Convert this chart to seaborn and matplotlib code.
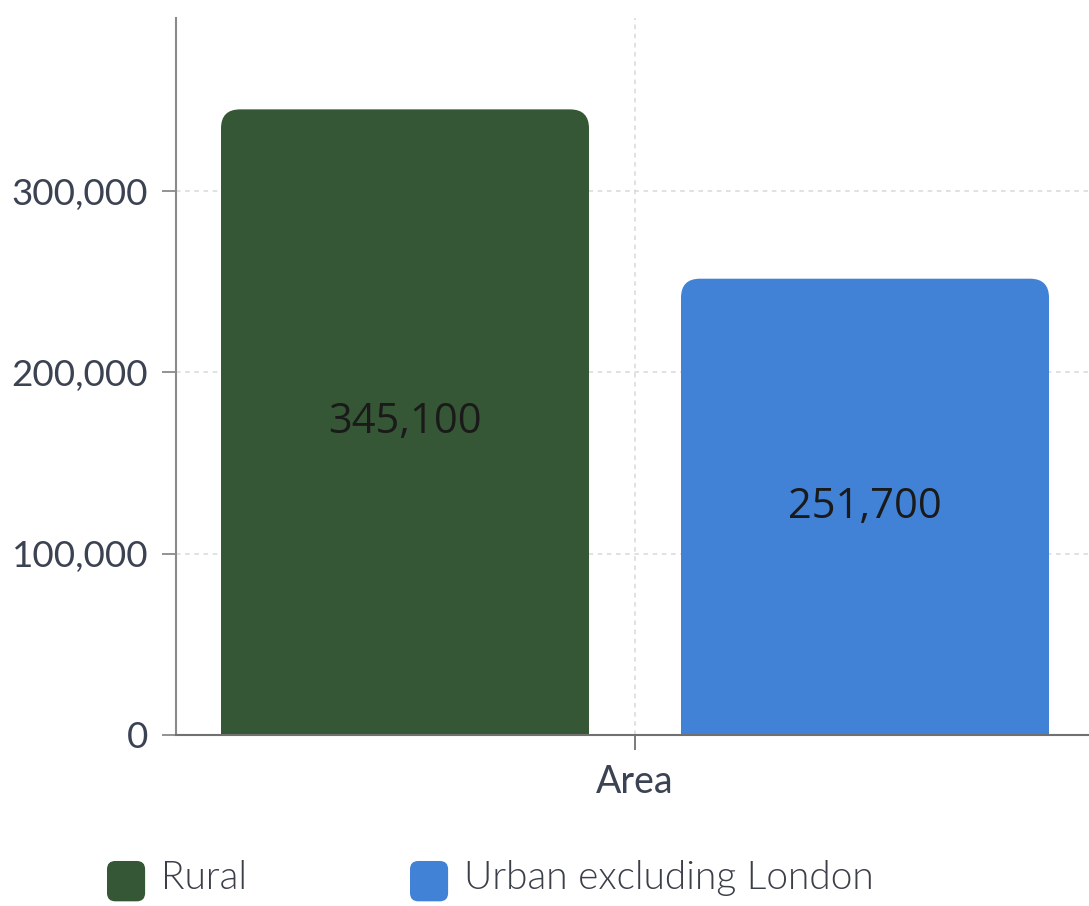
import matplotlib
matplotlib.use("Agg")
import matplotlib.pyplot as plt
import seaborn as sns
import pandas as pd
from matplotlib.path import Path
from matplotlib.patches import PathPatch, FancyBboxPatch
from matplotlib.legend_handler import HandlerPatch
from matplotlib.ticker import FuncFormatter

# ---- data ----
category = ["Area"]
series = ["Rural", "Urban excluding London"]
values = [345100, 251700]
colors = ["#365735", "#4182D7"]
y_ticks = [0, 100000, 200000, 300000]

df = pd.DataFrame({"x": category * len(series), "series": series, "value": values})

sns.set_theme(style="white")
plt.rcParams["font.family"] = ["Lato", "DejaVu Sans"]

W, H, DPI = 1089, 906, 100
fig = plt.figure(figsize=(W / DPI, H / DPI), dpi=DPI)
ax_left, ax_right, ax_top, ax_bottom = 176, 1094, 18, 735
ax = fig.add_axes([ax_left / W, 1 - ax_bottom / H, (ax_right - ax_left) / W, (ax_bottom - ax_top) / H])

sns.barplot(data=df, x="x", y="value", hue="series", palette=colors, hue_order=series,
            width=0.8, gap=0.2, ax=ax, legend=False, saturation=1)

ymax = 395500
ax.set_ylim(0, ymax)
px_unit = 1150.0
half = (ax_right - ax_left) / 2 / px_unit
ax.set_xlim(-half, half)

# rounded tops
px_per_x = px_unit
px_per_y = (ax_bottom - ax_top) / ymax
r_px = 19
rx = r_px / px_per_x
ry = r_px / px_per_y
for patch, col in zip(ax.patches, colors):
    x0 = patch.get_x()
    x1 = x0 + patch.get_width()
    top = patch.get_height()
    verts = [(x0, 0), (x0, top - ry), (x0, top), (x0 + rx, top), (x1 - rx, top),
             (x1, top), (x1, top - ry), (x1, 0), (x0, 0)]
    codes = [Path.MOVETO, Path.LINETO, Path.CURVE3, Path.CURVE3, Path.LINETO,
             Path.CURVE3, Path.CURVE3, Path.LINETO, Path.CLOSEPOLY]
    patch.set_visible(False)
    ax.add_patch(PathPatch(Path(verts, codes), facecolor=col, edgecolor="none", zorder=2))

for cont in ax.containers:
    ax.bar_label(cont, labels=[f"{v:,.0f}" for v in cont.datavalues], label_type="center",
                 fontsize=30, color="#1a1a1a", family=["Open Sans", "DejaVu Sans"])

ax.set_yticks(y_ticks)
ax.yaxis.set_major_formatter(FuncFormatter(lambda v, p: f"{v:,.0f}"))
ax.set_xlabel("")
ax.set_ylabel("")

ax.grid(True, axis="both", color="#d9d9d9", linestyle=(0, (3, 3)), linewidth=1.1, zorder=0)
ax.set_axisbelow(True)
for s in ["top", "right"]:
    ax.spines[s].set_visible(False)
ax.spines["left"].set_color("#8a8a8a")
ax.spines["left"].set_linewidth(1.5)
ax.spines["bottom"].set_color("#707070")
ax.spines["bottom"].set_linewidth(1.5)
ax.tick_params(axis="y", left=True, length=10, width=1.3, color="#8a8a8a", pad=10,
               labelsize=26.5, labelcolor="#3b4252")
ax.tick_params(axis="x", bottom=True, length=11, width=1.3, color="#707070", pad=10,
               labelsize=27, labelcolor="#3b4252")


class RoundHandler(HandlerPatch):
    def create_artists(self, legend, orig_handle, xdescent, ydescent, width, height, fontsize, trans):
        p = FancyBboxPatch((-xdescent, -ydescent - 6), width, height + 4,
                           boxstyle="round,pad=0,rounding_size=6",
                           facecolor=orig_handle.get_facecolor(), edgecolor="none", transform=trans)
        return [p]


handles = [FancyBboxPatch((0, 0), 1, 1, facecolor=c) for c in colors]
leg = fig.legend(handles, series, loc="lower left", bbox_to_anchor=(72 / W, -0.0275), ncol=2,
                 frameon=False, handlelength=0.98, handleheight=1.0,
                 handletextpad=0.42, columnspacing=4.18,
                 handler_map={FancyBboxPatch: RoundHandler()},
                 prop={"family": ["Lato", "DejaVu Sans"], "weight": 300, "size": 28})
for t in leg.get_texts():
    t.set_color("#3a3f48")

fig.savefig("out.png", dpi=DPI)
